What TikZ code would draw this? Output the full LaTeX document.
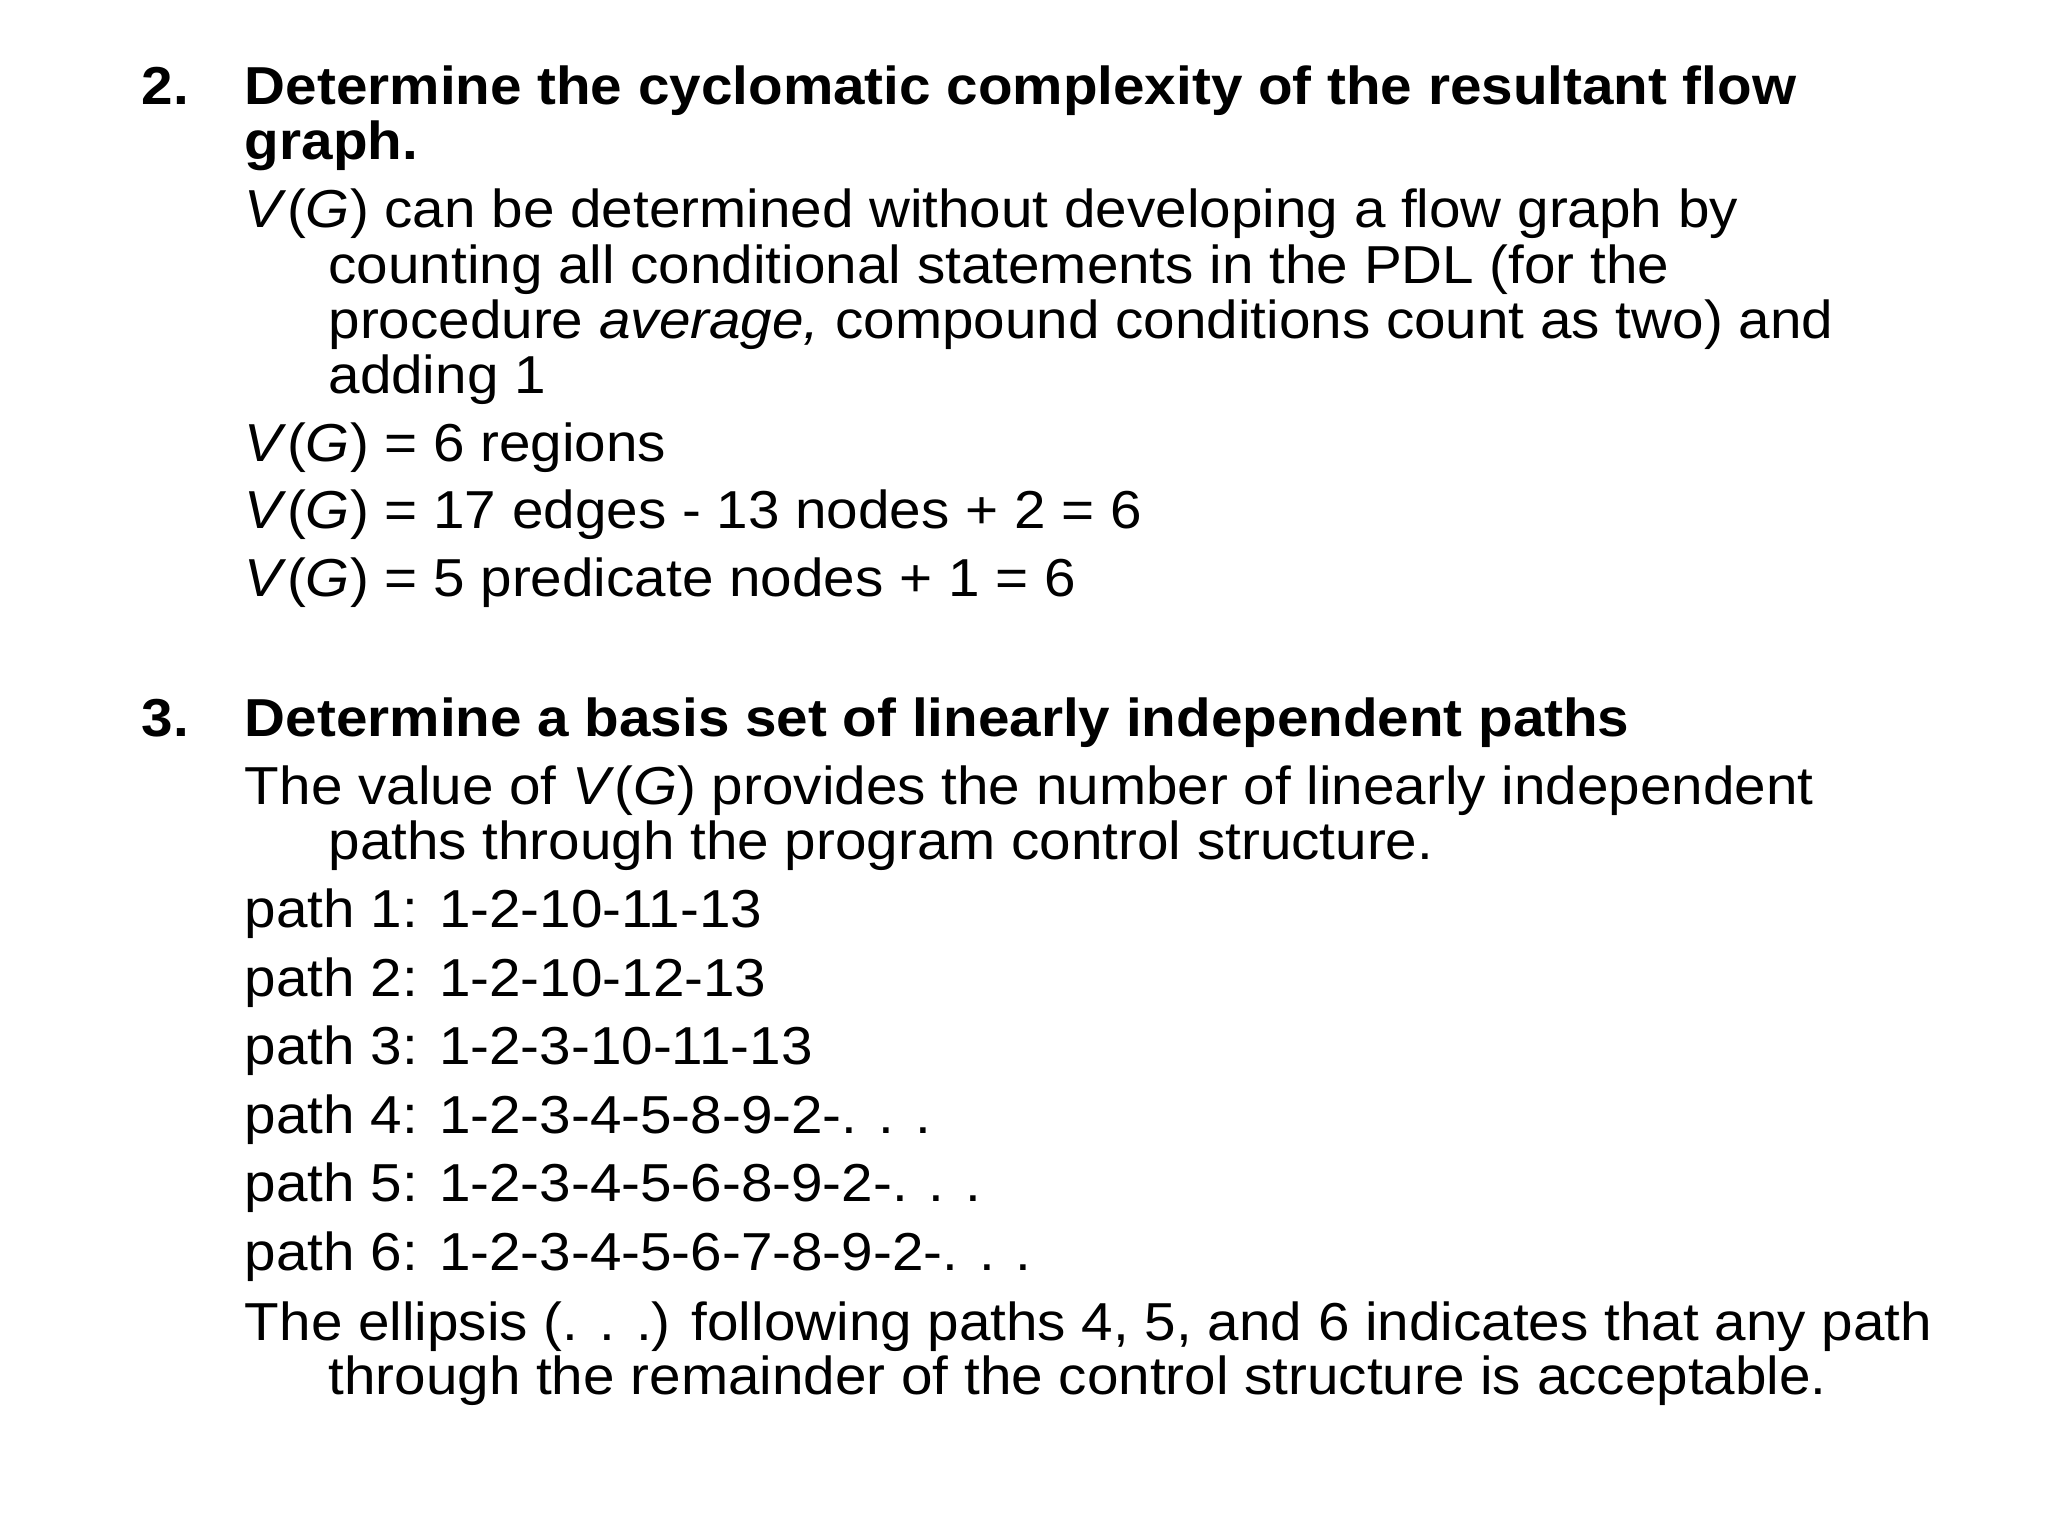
\documentclass[tikz,border=0pt]{standalone}
\usepackage{fontspec}
\setmainfont[FakeStretch=1.06]{Liberation Sans}
\begin{document}
\begin{tikzpicture}[x=0.013061cm,y=-0.013061cm,
  t/.style={anchor=base west,inner sep=0pt,font=\fontsize{15.2pt}{16pt}\selectfont},
  b/.style={t,font=\fontsize{15.2pt}{16pt}\selectfont\bfseries}]
\useasboundingbox (0,0) rectangle (1568,1176);
\node[b] (n2) at (108,80) {2.};
\node[b] (h2a) at (187,80) {Determine the cyclomatic complexity of the resultant flow};
\node[b] (h2b) at (187,122) {graph.};
\node[t] (l1) at (187,174) {\textit{V}(\textit{G}) can be determined without developing a flow graph by};
\node[t] (l2) at (251,217) {counting all conditional statements in the PDL (for the};
\node[t] (l3) at (251,259) {procedure \textit{average,} compound conditions count as two) and};
\node[t] (l4) at (251,301) {adding 1};
\node[t] (l5) at (187,353) {\textit{V}(\textit{G}) = 6 regions};
\node[t] (l6) at (187,405) {\textit{V}(\textit{G}) = 17 edges - 13 nodes + 2 = 6};
\node[t] (l7) at (187,457) {\textit{V}(\textit{G}) = 5 predicate nodes + 1 = 6};
\node[b] (n3) at (108,564) {3.};
\node[b] (h3) at (187,564) {Determine a basis set of linearly independent paths};
\node[t] (m1) at (187,616) {The value of \textit{V}(\textit{G}) provides the number of linearly independent};
\node[t] (m2) at (251,658) {paths through the program control structure.};
\node[t] (p1) at (187,710) {path 1: 1-2-10-11-13};
\node[t] (p2) at (187,763) {path 2: 1-2-10-12-13};
\node[t] (p3) at (187,815) {path 3: 1-2-3-10-11-13};
\node[t] (p4) at (187,868) {path 4: 1-2-3-4-5-8-9-2-. . .};
\node[t] (p5) at (187,920) {path 5: 1-2-3-4-5-6-8-9-2-. . .};
\node[t] (p6) at (187,973) {path 6: 1-2-3-4-5-6-7-8-9-2-. . .};
\node[t] (e1) at (187,1026) {The ellipsis (. . .) following paths 4, 5, and 6 indicates that any path};
\node[t] (e2) at (251,1068) {through the remainder of the control structure is acceptable.};
\end{tikzpicture}
\end{document}
